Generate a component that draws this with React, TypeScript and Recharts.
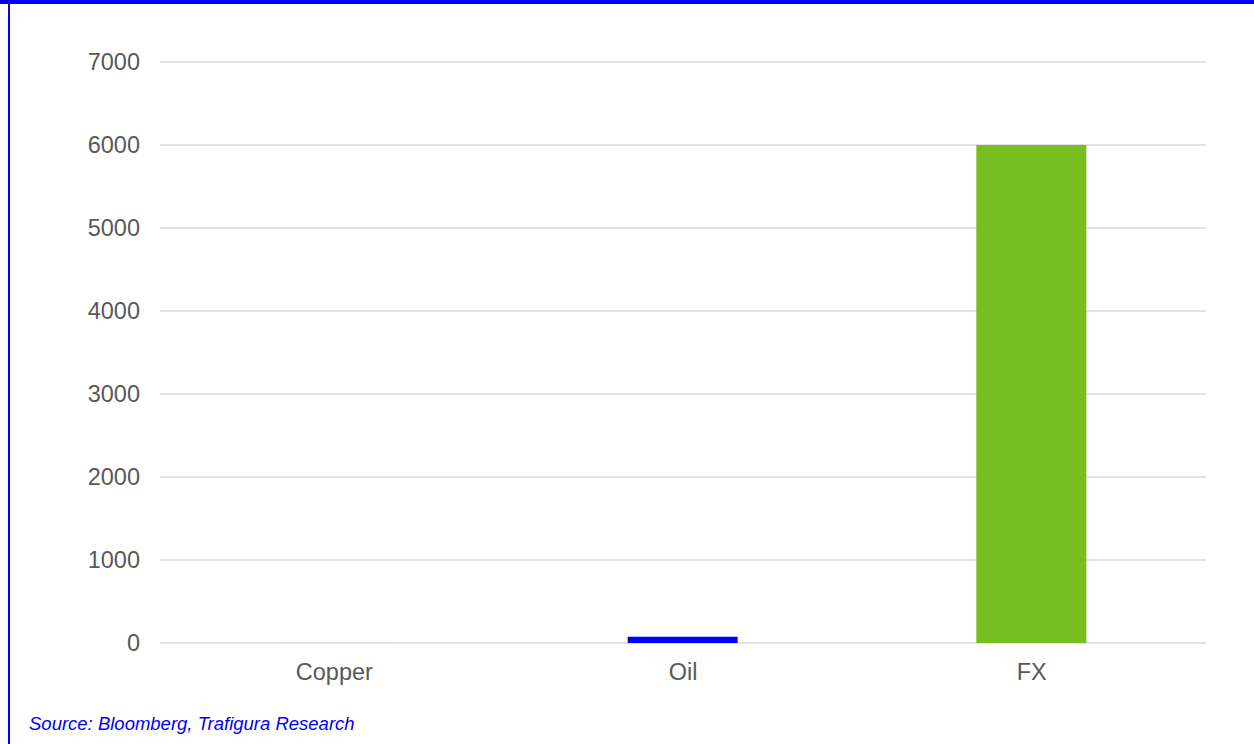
import { BarChart, Bar, XAxis, YAxis, CartesianGrid, Cell } from "recharts";

const categories = ["Copper", "Oil", "FX"];
const values = [3, 75, 6000];
const barColors = ["#d8d8f4", "#0000ff", "#78be20"];
const yTicks = [0, 1000, 2000, 3000, 4000, 5000, 6000, 7000];

const data = categories.map((name, i) => ({ name, value: values[i] }));

const font = '"Liberation Sans", Arial, sans-serif';

export default function App() {
    return (
        <div
            style={{
                position: "absolute",
                top: 0,
                left: 0,
                width: 1254,
                height: 744,
                background: "#ffffff",
                fontFamily: font,
            }}
        >
            {/* frame: thick top rule and thin left rule */}
            <div style={{ position: "absolute", top: 0, left: 0, width: 1254, height: 4, background: "#0000ff" }} />
            <div style={{ position: "absolute", top: 0, left: 8, width: 2, height: 744, background: "#0000ff" }} />

            <div style={{ position: "absolute", top: 0, left: 0 }}>
                <BarChart
                    width={1254}
                    height={700}
                    data={data}
                    margin={{ top: 62, right: 48, left: 0, bottom: 17 }}
                >
                    <CartesianGrid vertical={false} stroke="#d9d9d9" strokeWidth={1.5} />
                    <XAxis
                        dataKey="name"
                        height={40}
                        axisLine={false}
                        tickLine={false}
                        tickMargin={14}
                        tick={{ fontSize: 23.5, fill: "#595959", fontFamily: font }}
                    />
                    <YAxis
                        width={160}
                        domain={[0, 7000]}
                        ticks={yTicks}
                        axisLine={false}
                        tickLine={false}
                        tickMargin={14}
                        tick={{ fontSize: 23.5, fill: "#595959", fontFamily: font }}
                    />
                    <Bar dataKey="value" barSize={110} isAnimationActive={false}>
                        {data.map((d, i) => (
                            <Cell key={d.name} fill={barColors[i]} />
                        ))}
                    </Bar>
                </BarChart>
            </div>

            <div
                style={{
                    position: "absolute",
                    left: 29,
                    top: 713,
                    fontSize: 18.5,
                    fontStyle: "italic",
                    color: "#0000ff",
                    fontFamily: font,
                }}
            >
                Source: Bloomberg, Trafigura Research
            </div>
        </div>
    );
}
